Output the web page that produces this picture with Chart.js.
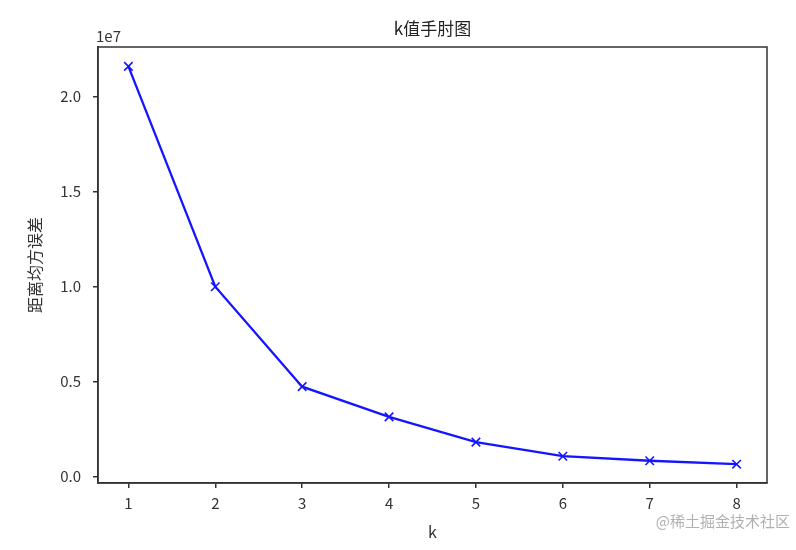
<!DOCTYPE html>
<html>
<head>
<meta charset="utf-8">
<script src="https://cdn.jsdelivr.net/npm/chart.js@4/dist/chart.umd.min.js"></script>
<style>
html,body{margin:0;padding:0;background:#fff;}
#wrap{width:796px;height:550px;position:relative;}
</style>
</head>
<body>
<div id="wrap"><canvas id="c" width="796" height="550"></canvas></div>
<script>
const kValues = [1, 2, 3, 4, 5, 6, 7, 8];
const sseValues = [2.158e7, 0.998e7, 0.472e7, 0.313e7, 0.180e7, 0.106e7, 0.082e7, 0.064e7];
const xTickValues = [1, 2, 3, 4, 5, 6, 7, 8];
const yTickValues = [0, 0.5e7, 1.0e7, 1.5e7, 2.0e7];
const titleText = 'k值手肘图';
const xLabel = 'k';
const yLabel = '距离均方误差';
const offsetText = '1e7';
const watermark = '@稀土掘金技术社区';

const FONT = "'Noto Sans CJK SC', 'DejaVu Sans', sans-serif";
const AXIS = '#333333';

const framePlugin = {
  id: 'frame',
  afterDraw(chart) {
    const {ctx, chartArea: a} = chart;
    ctx.save();
    ctx.strokeStyle = AXIS;
    ctx.lineWidth = 1.5;
    ctx.strokeRect(a.left, a.top, a.right - a.left, a.bottom - a.top);
    ctx.fillStyle = '#222';
    ctx.font = "17px " + FONT;
    ctx.textAlign = 'center';
    ctx.textBaseline = 'middle';
    ctx.fillText(titleText, (a.left + a.right) / 2, 29);
    ctx.font = "15px " + FONT;
    ctx.fillStyle = '#333';
    ctx.textAlign = 'left';
    ctx.textBaseline = 'alphabetic';
    ctx.fillText(offsetText, a.left - 2, a.top - 5);
    ctx.font = "15px " + FONT;
    ctx.fillStyle = 'rgba(150,150,150,0.75)';
    ctx.textAlign = 'right';
    ctx.textBaseline = 'middle';
    ctx.fillText(watermark, 790, 521);
    ctx.restore();
  }
};

new Chart(document.getElementById('c'), {
  type: 'line',
  data: {
    datasets: [{
      data: kValues.map((k, i) => ({x: k, y: sseValues[i]})),
      borderColor: '#1515ff',
      borderWidth: 2.3,
      pointStyle: 'crossRot',
      pointRadius: 6,
      pointHoverRadius: 6,
      pointBorderWidth: 1.6,
      pointBorderColor: '#1515ff',
      pointBackgroundColor: '#1515ff',
      tension: 0,
      fill: false
    }]
  },
  plugins: [framePlugin],
  options: {
    responsive: false,
    animation: false,
    events: [],
    layout: {padding: {left: 0, right: 29, top: 47, bottom: 0}},
    plugins: {legend: {display: false}, tooltip: {enabled: false}, title: {display: false}},
    scales: {
      x: {
        type: 'linear',
        min: 0.65,
        max: 8.35,
        afterBuildTicks(s) { s.ticks = xTickValues.map(v => ({value: v})); },
        afterFit(s) { s.height = 67; },
        grid: {display: true, drawOnChartArea: false, drawTicks: true, tickLength: 5, color: AXIS, lineWidth: 1.5},
        border: {display: true, color: AXIS, width: 1.5},
        ticks: {color: '#333', font: {family: FONT, size: 15}, padding: 6, maxRotation: 0,
          callback: v => String(v)},
        title: {display: true, text: xLabel, color: '#333', font: {family: FONT, size: 16}, padding: {top: 0, bottom: 8}}
      },
      y: {
        type: 'linear',
        min: -0.035e7,
        max: 2.26e7,
        afterBuildTicks(s) { s.ticks = yTickValues.map(v => ({value: v})); },
        afterFit(s) { s.width = 98; },
        grid: {display: true, drawOnChartArea: false, drawTicks: true, tickLength: 5, color: AXIS, lineWidth: 1.5},
        border: {display: true, color: AXIS, width: 1.5},
        ticks: {color: '#333', font: {family: FONT, size: 15}, padding: 12,
          callback: v => (v / 1e7).toFixed(1)},
        title: {display: true, text: yLabel, color: '#333', font: {family: FONT, size: 16}, padding: {top: 25, bottom: 0}}
      }
    }
  }
});
</script>
</body>
</html>
